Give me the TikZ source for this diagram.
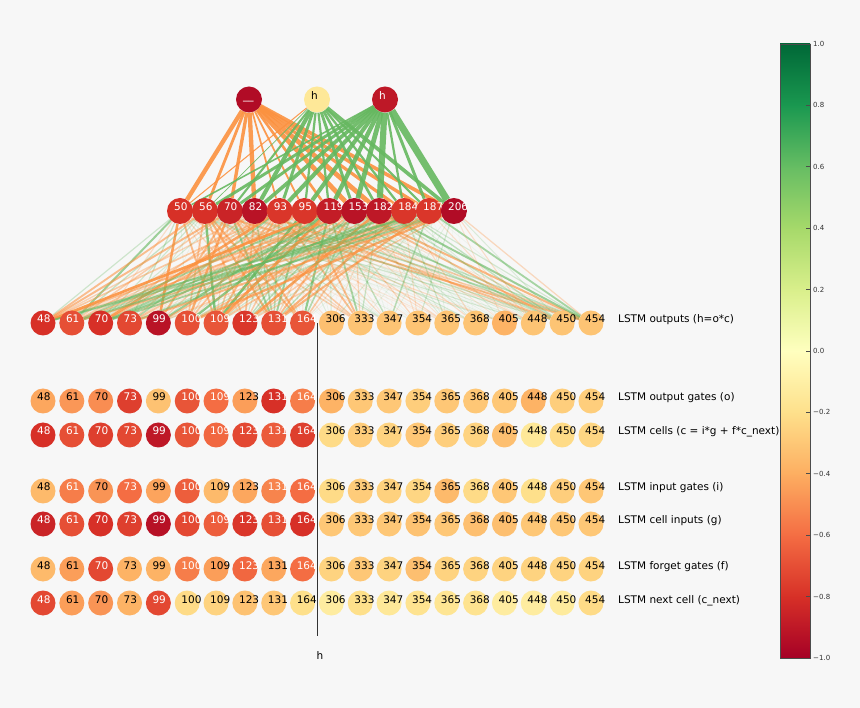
\documentclass[tikz,border=0pt]{standalone}
\usepackage{fontspec}
\setmainfont{DejaVu Sans}

\definecolor{figbg}{RGB}{247,247,247}
\definecolor{rdyg0}{RGB}{165,0,38}
\definecolor{rdyg1}{RGB}{215,48,39}
\definecolor{rdyg2}{RGB}{244,109,67}
\definecolor{rdyg3}{RGB}{253,174,97}
\definecolor{rdyg4}{RGB}{254,224,139}
\definecolor{rdyg5}{RGB}{255,255,191}
\definecolor{rdyg6}{RGB}{217,239,139}
\definecolor{rdyg7}{RGB}{166,217,106}
\definecolor{rdyg8}{RGB}{102,189,99}
\definecolor{rdyg9}{RGB}{26,152,80}
\definecolor{rdyg10}{RGB}{0,104,55}
\definecolor{edgeneg}{RGB}{252,146,64}
\definecolor{edgepos}{RGB}{102,184,96}

\pgfdeclarelayer{bg}
\pgfdeclarelayer{edges}
\pgfsetlayers{bg,edges,main}

\newcommand\unitfont{\fontsize{10.5}{12}\selectfont}
\newcommand\cmapcolor[2]{%
	\pgfmathsetmacro\cmpos{(#1+1)*5}%
	\pgfmathtruncatemacro\cmlo{min(floor(\cmpos),9)}%
	\pgfmathtruncatemacro\cmhi{\cmlo+1}%
	\pgfmathsetmacro\cmpct{(\cmpos-\cmlo)*100}%
	\colorlet{#2}{rdyg\cmhi!\cmpct!rdyg\cmlo}}
\newcommand\edgecolor[1]{%
	\ifdim#1pt<0pt \def\ecol{edgeneg}\else\def\ecol{edgepos}\fi}

\def\unitids{48,61,70,73,99,100,109,123,131,164,306,333,347,354,365,368,405,448,450,454}
\newcommand\unitrow[4]{%
	\foreach \uid [count=\j] in \unitids {
		\pgfmathsetmacro\uval{{#3}[\j-1]}
		\pgfmathsetmacro\ux{43+28.84*(\j-1)}
		\cmapcolor{\uval}{cellfill}
		\ifdim\uval pt<-0.51pt \def\utext{white}\else\def\utext{black}\fi
		\node[unit] (#1\j) at (\ux,#2) {};
		\node[unitlabel, text=\utext] (#1\j-l) at ([xshift=-6pt]#1\j.center) {\uid};
	}
	\node[rowcaption] (#1cap) at (618,#2) {#4};
}

\tikzset{
	unit/.style={circle, fill=cellfill, inner sep=0pt, minimum size=25pt},
	bigunit/.style={unit, minimum size=26pt},
	unitlabel/.style={anchor=base west, inner sep=0pt, font=\unitfont},
	rowcaption/.style={anchor=base west, inner sep=0pt, font=\unitfont},
	ticklabel/.style={anchor=west, inner sep=0pt, font=\fontsize{7}{8}\selectfont, text=black!80},
	cbtick/.style={black!70, line width=0.6pt},
	axisline/.style={black!80, line width=0.8pt}
}

\begin{document}
\begin{tikzpicture}[x=1pt, y=-1pt]
	\begin{pgfonlayer}{bg}
		\fill[figbg] (0,0) rectangle (860,708);
	\end{pgfonlayer}
	%
	\foreach \uid/\uval/\ux [count=\k] in {\_\_/-0.95/249, h/-0.15/317, h/-0.9/385} {
		\cmapcolor{\uval}{cellfill}
		\ifdim\uval pt<-0.51pt \def\utext{white}\else\def\utext{black}\fi
		\node[bigunit] (t\k) at (\ux,99.5) {};
		\node[unitlabel, text=\utext] (t\k-l) at ([xshift=-6pt]t\k.center) {\uid};
	}
	\foreach \uid/\uval [count=\i] in {50/-0.8,56/-0.8,70/-0.85,82/-0.92,93/-0.78,95/-0.78,119/-0.88,153/-0.92,182/-0.9,184/-0.78,187/-0.78,206/-0.95} {
		\cmapcolor{\uval}{cellfill}
		\node[bigunit] (m\i) at ({180+24.9*(\i-1)},211) {};
		\node[unitlabel, text=white] (m\i-l) at ([xshift=-6pt]m\i.center) {\uid};
	}
	%
	\unitrow{o}{323}{-0.8,-0.7,-0.8,-0.72,-0.92,-0.7,-0.68,-0.78,-0.7,-0.68,-0.33,-0.31,-0.31,-0.31,-0.31,-0.31,-0.38,-0.31,-0.31,-0.31}{LSTM outputs (h=o*c)}
	\unitrow{og}{401}{-0.42,-0.47,-0.5,-0.75,-0.32,-0.68,-0.6,-0.45,-0.8,-0.55,-0.38,-0.3,-0.3,-0.27,-0.3,-0.3,-0.3,-0.38,-0.27,-0.27}{LSTM output gates (o)}
	\unitrow{c}{435}{-0.8,-0.7,-0.75,-0.72,-0.9,-0.68,-0.62,-0.72,-0.66,-0.75,-0.22,-0.28,-0.25,-0.3,-0.27,-0.25,-0.33,-0.15,-0.22,-0.24}{LSTM cells (c = i*g + f*c\_next)}
	\unitrow{ig}{491}{-0.35,-0.55,-0.48,-0.6,-0.43,-0.65,-0.35,-0.42,-0.53,-0.6,-0.22,-0.28,-0.26,-0.24,-0.35,-0.22,-0.3,-0.2,-0.27,-0.3}{LSTM input gates (i)}
	\unitrow{g}{524}{-0.85,-0.7,-0.8,-0.75,-0.93,-0.72,-0.65,-0.78,-0.7,-0.8,-0.3,-0.3,-0.3,-0.32,-0.3,-0.33,-0.33,-0.3,-0.3,-0.3}{LSTM cell inputs (g)}
	\unitrow{fg}{569}{-0.35,-0.45,-0.72,-0.38,-0.38,-0.55,-0.45,-0.62,-0.42,-0.6,-0.25,-0.3,-0.25,-0.33,-0.25,-0.25,-0.25,-0.25,-0.25,-0.25}{LSTM forget gates (f)}
	\unitrow{cn}{603}{-0.72,-0.45,-0.48,-0.38,-0.72,-0.22,-0.25,-0.32,-0.3,-0.2,-0.12,-0.2,-0.15,-0.18,-0.17,-0.18,-0.12,-0.12,-0.13,-0.22}{LSTM next cell (c\_next)}
	%
	\begin{pgfonlayer}{edges}
		\foreach \wts [count=\k] in {{-0.62,-0.4,-0.48,-0.62,-0.25,-0.25,-0.38,-0.68,-0.68,-0.45,-0.48,-0.52},
			{-0.15,0.1,0.3,0.58,0.42,0.32,0.32,0.42,0.38,0.32,0.3,0.52},
			{0.22,0.42,0.42,0.52,0.58,0.58,0.62,0.68,0.88,0.32,0.42,1}} {
			\foreach \w [count=\i] in \wts {
				\pgfmathsetmacro\lw{7*abs(\w)}
				\edgecolor{\w}
				\draw[draw=\ecol, line width=\lw pt, draw opacity=0.9] (t\k) -- (m\i);
			}
		}
		\pgfmathsetseed{11}
		\foreach \i in {1,...,12} {
			\foreach \s [count=\j] in {0.9,0.7,0.9,0.8,0.9,0.8,0.9,1,0.8,0.7,0.25,0.6,0.45,0.3,0.3,0.3,0.35,0.3,0.55,0.65} {
				\pgfmathsetmacro\w{\s*(2*rnd-1)}
				\pgfmathsetmacro\wabs{abs(\w)}
				\pgfmathsetmacro\lw{0.5+2.4*\wabs}
				\edgecolor{\w}
				\draw[draw=\ecol, line width=\lw pt, draw opacity=\wabs] (m\i) -- (o\j);
			}
		}
	\end{pgfonlayer}
	%
	\coordinate (axtop) at (317,323);
	\coordinate (axbot) at (317,636);
	\draw[axisline] (axtop) -- (axbot);
	\node[font=\unitfont, anchor=base, inner sep=0pt] (axlabel) at (320,659) {h};
	%
	\foreach \k in {0,...,9} {
		\pgfmathtruncatemacro\kk{\k+1}
		\pgfmathsetmacro\ylo{351-307*(-1+0.2*\k)+0.3}
		\pgfmathsetmacro\yhi{351-307*(-0.8+0.2*\k)-0.3}
		\shade[bottom color=rdyg\k, top color=rdyg\kk] (780,\ylo) rectangle (810,\yhi);
	}
	\draw[black!70, line width=0.7pt] (780,44) rectangle (810,658);
	\foreach \tv/\tl [count=\n] in {1/1.0,0.8/0.8,0.6/0.6,0.4/0.4,0.2/0.2,0/0.0,-0.2/−0.2,-0.4/−0.4,-0.6/−0.6,-0.8/−0.8,-1/−1.0} {
		\pgfmathsetmacro\ty{351-307*\tv}
		\draw[cbtick] (810,\ty) -- (806,\ty);
		\node[ticklabel] (cbt\n) at (813,\ty) {\tl};
	}
\end{tikzpicture}
\end{document}
